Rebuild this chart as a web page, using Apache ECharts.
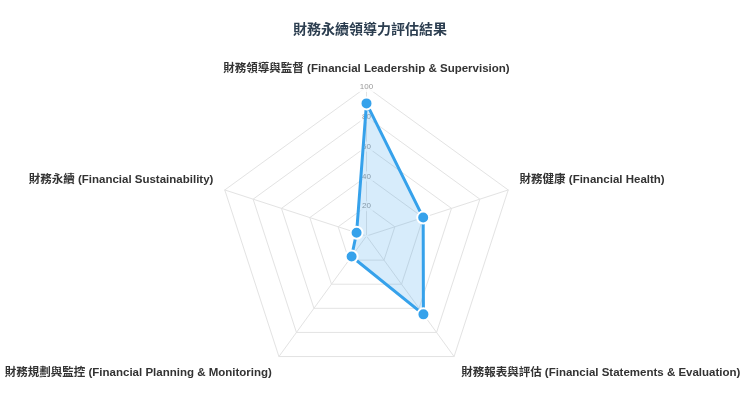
<!DOCTYPE html>
<html>
<head>
<meta charset="utf-8">
<script src="https://cdn.jsdelivr.net/npm/echarts@6/dist/echarts.min.js"></script>
<style>
html,body{margin:0;padding:0;background:#fff;}
#chart{width:740px;height:410px;}
</style>
</head>
<body>
<div id="chart"></div>
<script>
const titleText = '財務永續領導力評估結果';
// categories listed clockwise from the top, as in the reference
const categories = [
  '財務領導與監督 (Financial Leadership & Supervision)',
  '財務健康 (Financial Health)',
  '財務報表與評估 (Financial Statements & Evaluation)',
  '財務規劃與監控 (Financial Planning & Monitoring)',
  '財務永續 (Financial Sustainability)'
];
const scores = [89, 40, 65, 17, 7];
const maxValue = 100;
const tickStep = 20;

// ECharts draws radar indicators counter-clockwise; reorder so the picture runs clockwise
const drawOrder = [0, 4, 3, 2, 1];
const orderedNames = drawOrder.map(i => categories[i]);
const orderedScores = drawOrder.map(i => scores[i]);
// label placement style per drawn position: top, left, bottom-left, bottom-right, right
const nameStyleKey = ['top', 'side', 'bottom', 'bottom', 'side'];

const FONT = '"Liberation Sans", Arial, "Noto Sans CJK TC", sans-serif';
const chart = echarts.init(document.getElementById('chart'));
const indicator = orderedNames.map((name, i) => {
  const ind = { name: name, max: maxValue, min: 0 };
  if (i === 0) {
    ind.axisLabel = {
      show: true,
      color: '#999',
      fontSize: 8,
      fontFamily: FONT,
      margin: 0,
      align: 'center',
      verticalAlign: 'middle',
      backgroundColor: 'rgba(255,255,255,0.75)',
      padding: [1, 2],
      formatter: v => (v === 0 ? '' : String(v))
    };
  }
  return ind;
});

const nameFont = { color: '#333', fontSize: 11.5, fontWeight: 'bold', fontFamily: FONT };

chart.setOption({
  backgroundColor: '#fff',
  title: {
    text: titleText,
    left: 'center',
    top: 18,
    textStyle: {
      fontSize: 14,
      fontWeight: 'bold',
      color: '#2c3e50',
      fontFamily: FONT
    }
  },
  radar: {
    center: [366.5, 236],
    radius: 149,
    startAngle: 90,
    splitNumber: maxValue / tickStep,
    shape: 'polygon',
    indicator: indicator,
    nameGap: 12,
    axisName: Object.assign({}, nameFont, {
      formatter: (name) => {
        const idx = orderedNames.indexOf(name);
        return '{' + nameStyleKey[idx] + '|' + name + '}';
      },
      rich: {
        top: Object.assign({}, nameFont, { padding: [0, 0, 0, 0] }),
        side: Object.assign({}, nameFont, { padding: [0, 0, 12, 0] }),
        bottom: Object.assign({}, nameFont, { padding: [14, 0, 0, 0] })
      }
    }),
    axisLine: { lineStyle: { color: '#e3e3e3', width: 1 } },
    splitLine: { lineStyle: { color: '#e3e3e3', width: 1 } },
    splitArea: { show: false },
    axisLabel: { show: false }
  },
  series: [{
    type: 'radar',
    symbol: 'circle',
    symbolSize: 12,
    data: [{
      value: orderedScores,
      lineStyle: { color: '#36a2eb', width: 3 },
      areaStyle: { color: 'rgba(54,162,235,0.2)', opacity: 1 },
      itemStyle: { color: '#36a2eb', borderColor: '#fff', borderWidth: 2 }
    }]
  }]
});
</script>
</body>
</html>
